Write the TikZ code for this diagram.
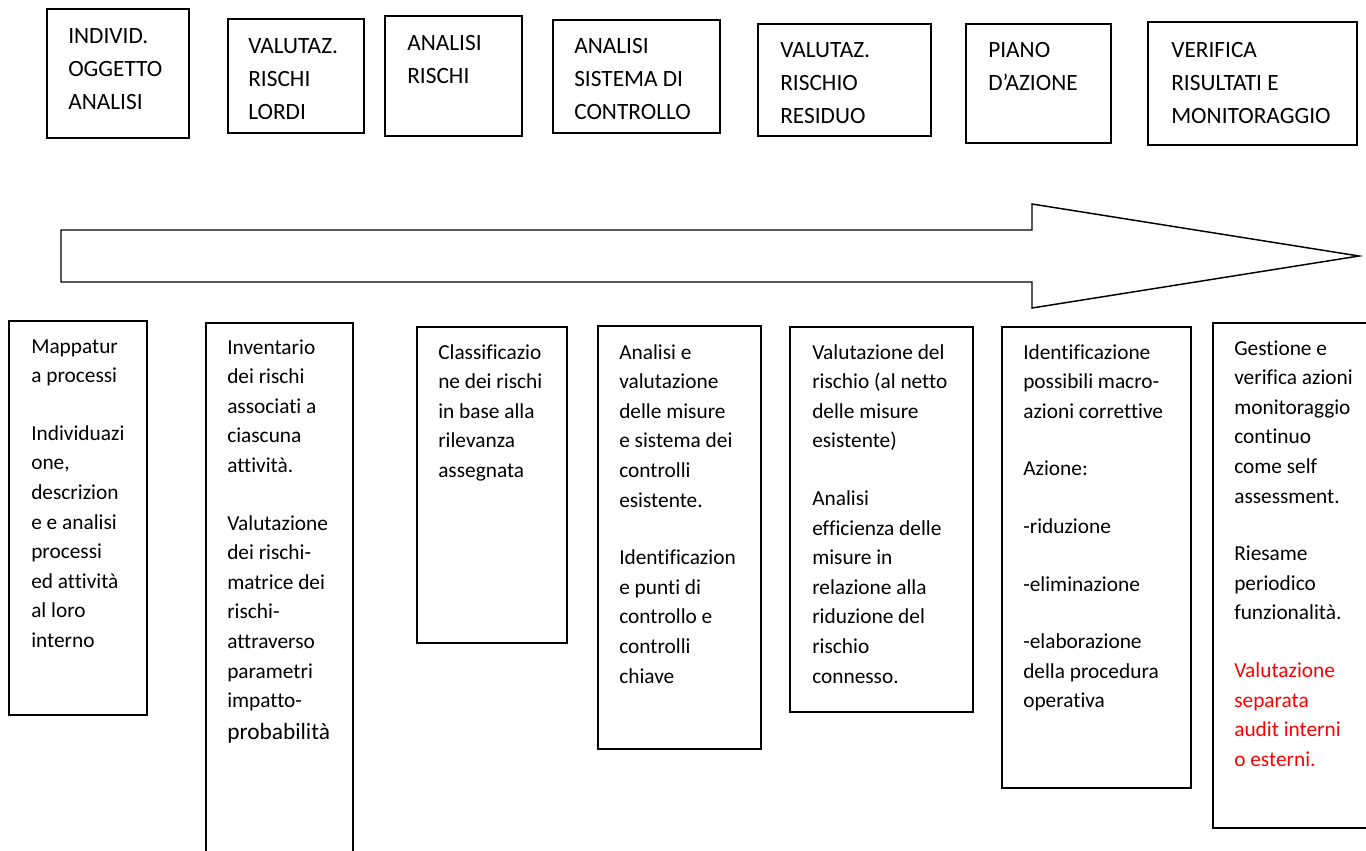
\documentclass[tikz,border=0pt]{standalone}
\usepackage{fontspec}
\setmainfont{Carlito}[Ligatures={NoCommon}]
\usetikzlibrary{fit}

\begin{document}
\begin{tikzpicture}[
			x=0.75pt, y=-0.75pt,
			fase/.style={draw, line width=1.1pt, inner sep=0pt},
			titolo/.style={anchor=base west, align=flush left, text width=160pt, inner sep=0pt, font=\fontsize{17.5}{25.1}\selectfont},
			voce/.style={anchor=base west, align=flush left, text width=160pt, inner sep=0pt, font=\fontsize{16}{22.2}\selectfont},
			freccia/.style={draw, line width=1.1pt, fill=white, line join=miter}
			]
			
			\useasboundingbox (0,0) rectangle (1366,850);
			\clip (0,0) rectangle (1366,850);
			
			% Top row: phases
			\node[fase, fit={(47,9) (189,138)}] (f1) {};
			\node[fase, fit={(228,19) (364,133)}] (f2) {};
			\node[fase, fit={(385,16) (522,136)}] (f3) {};
			\node[fase, fit={(553,20) (720,133)}] (f4) {};
			\node[fase, fit={(758,24) (931,136)}] (f5) {};
			\node[fase, fit={(966,24) (1111,143)}] (f6) {};
			\node[fase, fit={(1148,22) (1357,145)}] (f7) {};
			
			\node[titolo] (individ) at (68,43) {INDIVID.\\OGGETTO\\ANALISI};
			\node[titolo] (lordi) at (248,53) {VALUTAZ.\\RISCHI\\LORDI};
			\node[titolo] (analisi) at (407,50) {ANALISI\\RISCHI};
			\node[titolo] (controllo) at (574,53) {ANALISI\\SISTEMA DI\\CONTROLLO};
			\node[titolo] (residuo) at (780,57) {VALUTAZ.\\RISCHIO\\RESIDUO};
			\node[titolo] (piano) at (988,57) {PIANO\\D’AZIONE};
			\node[titolo] (verifica) at (1171,57) {VERIFICA\\RISULTATI E\\MONITORAGGIO};
			
			% Big arrow
			\draw[freccia] (61,230) -- (1032,230) -- (1032,204) -- (1359,256) -- (1032,308) -- (1032,282) -- (61,282) -- cycle;
			
			% Bottom row: activities
			\node[fase, fit={(9,321) (147,715)}] (a1) {};
			\node[fase, fit={(206,323) (353,880)}] (a2) {};
			\node[fase, fit={(417,327) (567,643)}] (a3) {};
			\node[fase, fit={(598,326) (761,749)}] (a4) {};
			\node[fase, fit={(790,327) (973,712)}] (a5) {};
			\node[fase, fit={(1002,327) (1191,788)}] (a6) {};
			\node[fase, fit={(1213,323) (1390,828)}] (a7) {};
			
			\node[voce] (mappatura) at (31,353) {Mappatur\\a processi\\[21pt]Individuazi\\one,\\descrizion\\e e analisi\\processi\\ed attività\\al loro\\interno};
			\node[voce] (inventario) at (227,354) {Inventario\\dei rischi\\associati a\\ciascuna\\attività.\\[21pt]Valutazione\\dei rischi-\\matrice dei\\rischi-\\attraverso\\parametri\\impatto-\\[2pt]{\fontsize{17.5}{22.2}\selectfont probabilità}};
			\node[voce] (classificazione) at (438,359) {Classificazio\\ne dei rischi\\in base alla\\rilevanza\\assegnata};
			\node[voce] (misure) at (619,359) {Analisi e\\valutazione\\delle misure\\e sistema dei\\controlli\\esistente.\\[21pt]Identificazion\\e punti di\\controllo e\\controlli\\chiave};
			\node[voce] (netto) at (812,359) {Valutazione del\\rischio (al netto\\delle misure\\esistente)\\[21pt]Analisi\\efficienza delle\\misure in\\relazione alla\\riduzione del\\rischio\\connesso.};
			\node[voce] (azioni) at (1023,359) {Identificazione\\possibili macro-\\azioni correttive\\[21pt]Azione:\\[21pt]-riduzione\\[21pt]-eliminazione\\[21pt]-elaborazione\\della procedura\\operativa};
			\node[voce] (gestione) at (1234,355) {Gestione e\\verifica azioni\\monitoraggio\\continuo\\come self\\assessment.\\[21pt]Riesame\\periodico\\funzionalità.\\[21pt]\textcolor{red}{Valutazione}\\\textcolor{red}{separata}\\\textcolor{red}{audit interni}\\\textcolor{red}{o esterni.}};
			
		\end{tikzpicture}
\end{document}
